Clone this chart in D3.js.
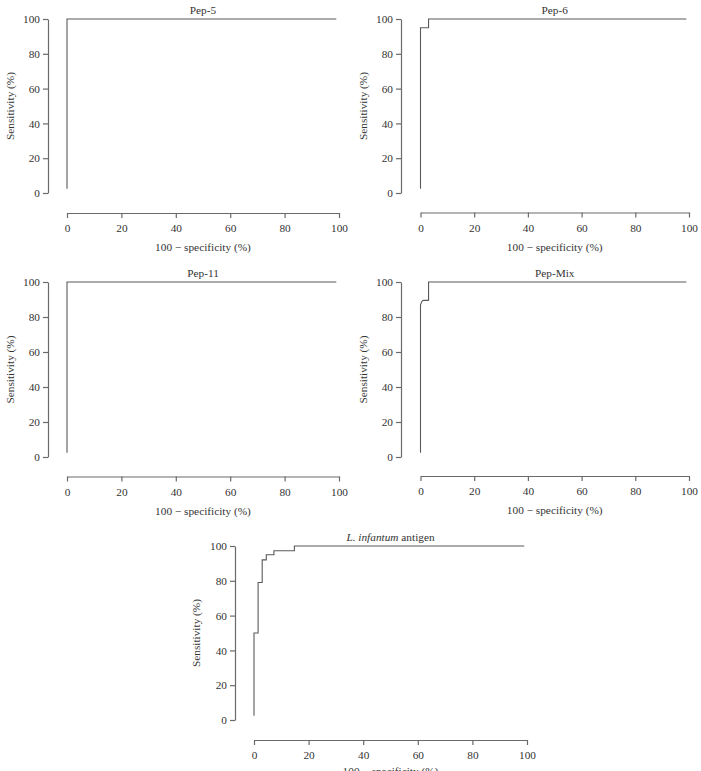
<!DOCTYPE html>
<html>
<head>
<meta charset="utf-8">
<script src="https://cdn.jsdelivr.net/npm/d3@7"></script>
<style>
  html, body { margin: 0; padding: 0; background: #fff; }
  svg text { font-family: "Liberation Serif", "DejaVu Serif", serif; fill: #333; }
</style>
</head>
<body>
<div id="chart"></div>
<script>
// ROC curves: x = 100 - specificity (%), y = sensitivity (%)
const panelNames = ['Pep-5', 'Pep-6', 'Pep-11', 'Pep-Mix', 'L. infantum antigen'];

const pep5X = [0, 0, 99];
const pep5Y = [2.5, 100, 100];

const pep6X = [0, 0, 3, 3, 99];
const pep6Y = [2.5, 95, 95, 100, 100];

const pep11X = [0, 0, 99];
const pep11Y = [2.5, 100, 100];

const pepMixX = [0, 0, 0.5, 1, 3, 3, 99];
const pepMixY = [2.5, 87, 88.8, 89.5, 89.5, 100, 100];

const linfX = [0, 0, 1.5, 1.5, 3, 3, 4.5, 4.5, 7.3, 7.3, 14.8, 14.8, 99];
const linfY = [2.5, 50, 50, 79, 79, 92, 92, 95, 95, 97.3, 97.3, 100, 100];

const tickValues = [0, 20, 40, 60, 80, 100];
const xTitle = '100 \u2212 specificity (%)';
const yTitle = 'Sensitivity (%)';

const seriesX = [pep5X, pep6X, pep11X, pepMixX, linfX];
const seriesY = [pep5Y, pep6Y, pep11Y, pepMixY, linfY];

// layout of each panel (pixels)
const layout = [
  { yAxisX: 48,  yTop: 19,  yBot: 193, xL: 67,    xR: 339, xAxisY: 213,   yTitleX: 10,  xTitleDy: 38 },
  { yAxisX: 401, yTop: 19,  yBot: 193, xL: 420.5, xR: 689, xAxisY: 212.5, yTitleX: 363, xTitleDy: 38 },
  { yAxisX: 48,  yTop: 282, yBot: 457, xL: 67,    xR: 339, xAxisY: 476.5, yTitleX: 10,  xTitleDy: 38 },
  { yAxisX: 401, yTop: 282, yBot: 457, xL: 420.5, xR: 689, xAxisY: 476,   yTitleX: 363, xTitleDy: 38 },
  { yAxisX: 235, yTop: 546, yBot: 720, xL: 254,   xR: 527, xAxisY: 740,   yTitleX: 196, xTitleDy: 35 }
];

const W = 701, H = 771;
const fs = '11.3px';
const svg = d3.select('#chart').append('svg')
  .attr('width', W)
  .attr('height', H);

const axisColor = '#6a6a6a';
const lineColor = '#5a5a5a';

panelNames.forEach((name, i) => {
  const L = layout[i];
  const g = svg.append('g');

  const x = d3.scaleLinear().domain([0, 100]).range([L.xL, L.xR]);
  const y = d3.scaleLinear().domain([0, 100]).range([L.yBot, L.yTop]);

  // Y axis
  const yAx = g.append('g')
    .attr('transform', `translate(${L.yAxisX},0)`)
    .call(d3.axisLeft(y).tickValues(tickValues).tickSize(5).tickSizeOuter(0).tickPadding(3));
  // X axis
  const xAx = g.append('g')
    .attr('transform', `translate(0,${L.xAxisY})`)
    .call(d3.axisBottom(x).tickValues(tickValues).tickSize(5).tickSizeOuter(0).tickPadding(6));

  [yAx, xAx].forEach(ax => {
    ax.select('.domain').attr('stroke', axisColor).attr('stroke-width', 1.2);
    ax.selectAll('.tick line').attr('stroke', axisColor).attr('stroke-width', 1.2);
    ax.selectAll('.tick text')
      .attr('fill', '#333')
      .style('font-size', fs)
      .style('font-family', '"Liberation Serif", "DejaVu Serif", serif');
  });

  // Axis titles
  g.append('text')
    .attr('x', (L.xL + L.xR) / 2)
    .attr('y', L.xAxisY + L.xTitleDy)
    .attr('text-anchor', 'middle')
    .style('font-size', fs)
    .text(xTitle);

  g.append('text')
    .attr('transform', `translate(${L.yTitleX},${(L.yTop + L.yBot) / 2}) rotate(-90)`)
    .attr('text-anchor', 'middle')
    .attr('dy', '0.35em')
    .style('font-size', fs)
    .text(yTitle);

  // Panel title
  const t = g.append('text')
    .attr('x', (L.xL + L.xR) / 2)
    .attr('y', L.yTop - 5)
    .attr('text-anchor', 'middle')
    .style('font-size', fs);
  if (name.startsWith('L. infantum')) {
    t.append('tspan').style('font-style', 'italic').text('L. infantum');
    t.append('tspan').text(' antigen');
  } else {
    t.text(name);
  }

  // ROC curve
  const pts = seriesX[i].map((v, k) => [v, seriesY[i][k]]);
  g.append('path')
    .datum(pts)
    .attr('fill', 'none')
    .attr('stroke', lineColor)
    .attr('stroke-width', 1.1)
    .attr('d', d3.line().x(d => x(d[0])).y(d => y(d[1])));
});
</script>
</body>
</html>
